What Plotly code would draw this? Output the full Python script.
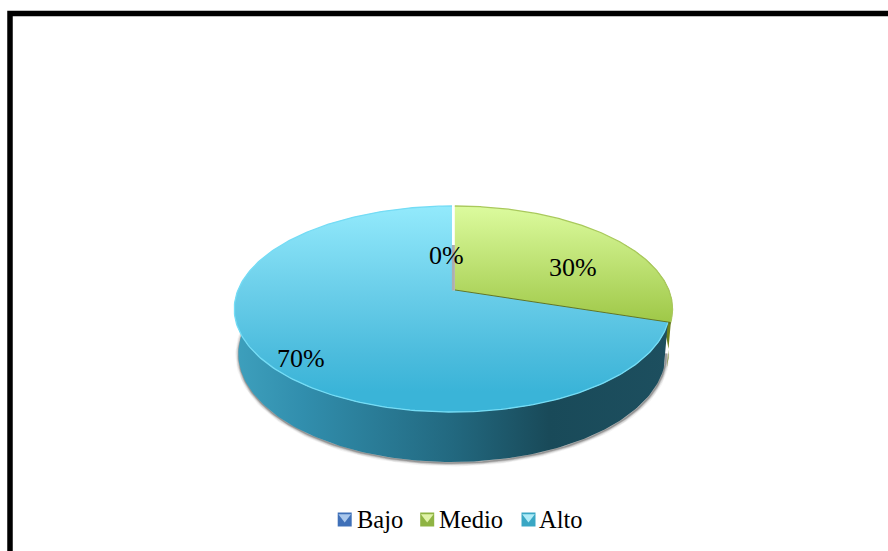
import numpy as np
import plotly.graph_objects as go

# Survey shares
categories = ["Bajo", "Medio", "Alto"]
values = [0, 30, 70]

WIDTH, HEIGHT = 888, 551
TILT = 0.1845  # perspective strength of the tilted disc
FONT = "Liberation Serif"


def project(theta, cx, cy, rx, ry):
    """Map clockwise-from-top angles (radians) on the disc to the page plane."""
    X, Y = np.sin(theta), -np.cos(theta)
    d = 1 - TILT * Y
    return cx + rx * X / d, cy + ry * Y / d


def arc(start, stop, n=160):
    return np.linspace(np.radians(start), np.radians(stop), n)


def top(theta, cx):
    return project(theta, cx, 290, 214, 99.5)


def floor(theta, cx=452):
    return project(theta, cx, 333.7, 210, 104.6)


# Cumulative sweep of every slice, in degrees
shares = np.array(values, dtype=float) / sum(values)
edges = np.concatenate([[0], np.cumsum(shares) * 360])
medio_start, medio_stop = edges[1], edges[2]
alto_start, alto_stop = edges[2], edges[3]

fig = go.Figure()


def wall(start, stop, stops, color=None, cx=452):
    t = arc(start, stop)
    x1, y1 = top(t, cx)
    x2, y2 = floor(t[::-1], cx)
    trace = dict(x=np.r_[x1, x2], y=np.r_[y1, y2], mode="lines", fill="toself",
                 line=dict(width=0), hoverinfo="skip", showlegend=False)
    if stops:
        trace["fillgradient"] = dict(type="horizontal", colorscale=stops, start=238, stop=670)
    else:
        trace["fillcolor"] = color
    fig.add_trace(go.Scatter(**trace))


def face(start, stop, cx, stops, y_span, edge=None):
    t = arc(start, stop, 240)
    x, y = top(t, cx)
    fig.add_trace(go.Scatter(
        x=np.r_[cx, x, cx], y=np.r_[290, y, 290], mode="lines", fill="toself",
        line=dict(width=0), hoverinfo="skip", showlegend=False,
        fillgradient=dict(type="vertical", colorscale=stops, start=y_span[0], stop=y_span[1]),
    ))
    if edge:
        fig.add_trace(go.Scatter(x=x, y=y, mode="lines", line=dict(color=edge, width=1.3),
                                 hoverinfo="skip", showlegend=False))


# Soft shadow under the lower rim
t_low = arc(100, 285)
sx, sy = floor(t_low)
for w, a in [(7, 0.06), (5, 0.12), (3, 0.2), (1.5, 0.3)]:
    fig.add_trace(go.Scatter(x=sx + 0.5, y=sy + 1, mode="lines",
                             line=dict(color=f"rgba(60,60,60,{a})", width=w),
                             hoverinfo="skip", showlegend=False))

# Side walls
wall(medio_start + 60, medio_stop, None, "#6c7f1d", cx=455)
wall(alto_start, alto_stop - 80, [
    [0.0, "#3d9fbc"], [0.15, "#318ead"], [0.5, "#22687f"],
    [0.72, "#194a59"], [1.0, "#1d4f5f"],
])

# Top faces, with the empty slice left as a narrow gap between them
face(medio_start, medio_stop, 454.8, [[0, "#dcfb9e"], [1, "#9fc848"]], (206, 322), "#a9c95c")
mx, my = top(np.radians([medio_stop]), 454.8)
fig.add_trace(go.Scatter(x=[454.8, mx[0]], y=[290.5, my[0] + 0.5], mode="lines",
                         line=dict(color="#5f7322", width=2.2), hoverinfo="skip", showlegend=False))
face(alto_start, alto_stop, 452, [
    [0, "#93eafc"], [0.4, "#6ccfea"], [0.72, "#4cbcdd"], [0.9, "#3ab4d8"], [1, "#3ab4d8"],
], (206, 412), "#74dcf5")

# Cut wall glimpsed through the gap of the zero-width slice
fig.add_trace(go.Scatter(x=[453.4, 453.4], y=[245, 290.5], mode="lines",
                         line=dict(color="#aeaeae", width=3), hoverinfo="skip", showlegend=False))

# Legend swatches
swatches = [
    (344.7, "#3f70b8", "#a9c7ec"),
    (427.2, "#8fb443", "#e0f3a8"),
    (528.5, "#3aa7c4", "#b0ecf8"),
]
for sxc, dark, light in swatches:
    fig.add_trace(go.Scatter(x=[sxc], y=[519.5], mode="markers", hoverinfo="skip", showlegend=False,
                             marker=dict(symbol="square", size=14, color=dark, line=dict(width=0))))
    fig.add_trace(go.Scatter(x=[sxc], y=[517], mode="markers", hoverinfo="skip", showlegend=False,
                             marker=dict(symbol="triangle-down", size=11, color=light, line=dict(width=0))))

annotations = []
# Slice percentages
label_spots = [(446, 255), (573, 267), (301, 358)]
for v, (lx, ly) in zip(values, label_spots):
    annotations.append(dict(x=lx, y=ly, text=f"{v}%", showarrow=False,
                            font=dict(family=FONT, size=26, color="#000000")))
# Legend labels
for name, lx in zip(categories, [354.5, 436.5, 537]):
    annotations.append(dict(x=lx, y=519.5, text=name, showarrow=False, xanchor="left",
                            font=dict(family=FONT, size=24.5, color="#000000")))

fig.update_layout(
    width=WIDTH, height=HEIGHT,
    margin=dict(l=0, r=0, t=0, b=0),
    paper_bgcolor="#ffffff", plot_bgcolor="#ffffff",
    showlegend=False,
    xaxis=dict(range=[0, WIDTH], visible=False, fixedrange=True),
    yaxis=dict(range=[HEIGHT, 0], visible=False, fixedrange=True),
    annotations=annotations,
    # Frame running off the right and lower page edges
    shapes=[dict(type="rect", x0=10, y0=13.4, x1=WIDTH + 20, y1=HEIGHT + 20,
                 line=dict(color="#000000", width=5.5), layer="above")],
)

fig.write_html("out.html", config={"displayModeBar": False})
